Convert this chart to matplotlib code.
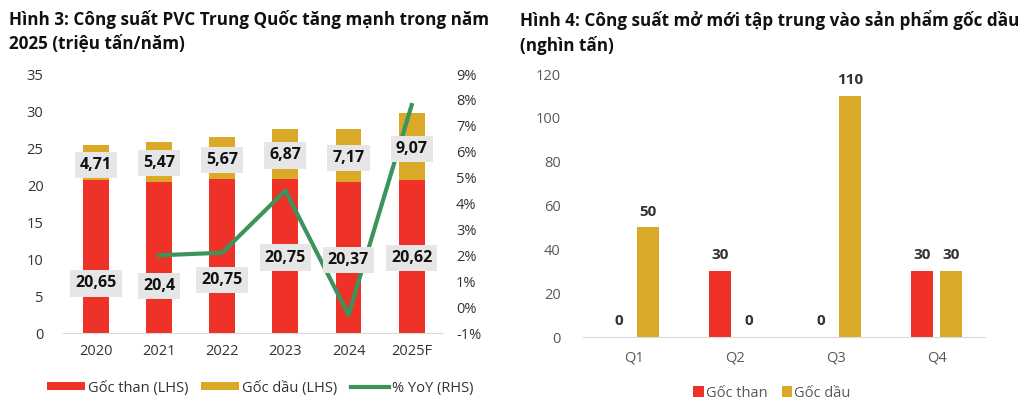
import matplotlib
matplotlib.use('Agg')
from matplotlib import pyplot as plt
from matplotlib.ticker import FuncFormatter
import numpy as np

plt.rcParams['font.family'] = ['Open Sans', 'DejaVu Sans']

# Hinh 3 data
years = ['2020', '2021', '2022', '2023', '2024', '2025F']
coal = [20.65, 20.4, 20.75, 20.75, 20.37, 20.62]
oil = [4.71, 5.47, 5.67, 6.87, 7.17, 9.07]
yoy = [None, 2.0, 2.1, 4.5, -0.3, 7.8]
coal_lbl = ['20,65', '20,4', '20,75', '20,75', '20,37', '20,62']
oil_lbl = ['4,71', '5,47', '5,67', '6,87', '7,17', '9,07']

# label heights (layout only)
coal_lbl_y = [6.7, 6.3, 7.2, 10.2, 9.9, 10.1]
oil_lbl_y = [22.7, 23.0, 23.4, 24.0, 23.7, 24.9]

# Hinh 4 data
quarters = ['Q1', 'Q2', 'Q3', 'Q4']
q_coal = [0, 30, 0, 30]
q_oil = [50, 0, 110, 30]

red = '#EE3228'
gold = '#DBA928'
green = '#3A945C'
tick_col = '#333333'

fig = plt.figure(figsize=(10.24, 4.11), dpi=100)

fig.text(0.009, 0.975, 'Hình 3: Công suất PVC Trung Quốc tăng mạnh trong năm\n2025 (triệu tấn/năm)',
         fontsize=12.3, fontweight='bold', va='top', ha='left', color='#111111', linespacing=1.35)
fig.text(0.508, 0.975, 'Hình 4: Công suất mở mới tập trung vào sản phẩm gốc dầu\n(nghìn tấn)',
         fontsize=12.3, fontweight='bold', va='top', ha='left', color='#111111', linespacing=1.35)

# ---- left chart
ax = fig.add_axes([63 / 1024, 1 - 333 / 411, (442 - 63) / 1024, (333 - 74) / 411])
x = np.arange(len(years))
ax.bar(x, coal, width=0.41, color=red, label='Gốc than (LHS)')
ax.bar(x, oil, width=0.41, bottom=coal, color=gold, label='Gốc dầu (LHS)')
ax.set_ylim(0, 35)
ax.set_xlim(-0.52, 5.48)
ax.set_yticks(range(0, 36, 5))
ax.set_xticks(x)
ax.set_xticklabels(years)
for s in ['top', 'right', 'left']:
    ax.spines[s].set_visible(False)
ax.spines['bottom'].set_color('#d9d9d9')
ax.tick_params(length=0, labelsize=10.5, colors=tick_col)
ax.tick_params(axis='y', pad=14)
ax.tick_params(axis='x', pad=8)

ax2 = ax.twinx()
yx = [i for i in range(len(years)) if yoy[i] is not None]
yv = [yoy[i] for i in yx]
ax2.plot(yx, yv, color=green, lw=3, label='% YoY (RHS)', zorder=6)
ax2.set_ylim(-1, 9)
ax2.set_yticks(range(-1, 10))
ax2.yaxis.set_major_formatter(FuncFormatter(lambda v, p: '%d%%' % v))
for s in ['top', 'right', 'left', 'bottom']:
    ax2.spines[s].set_visible(False)
ax2.tick_params(length=0, labelsize=10.5, colors=tick_col, pad=10)

# value boxes sit above the line
box = dict(boxstyle='square,pad=0.32', fc='#e6e6e6', ec='none')
for i in range(len(years)):
    ax2.text(x[i], coal_lbl_y[i], coal_lbl[i], transform=ax.transData, ha='center', va='center',
             fontsize=11.5, fontweight='bold', color='#111111', bbox=box, zorder=10)
    ax2.text(x[i], oil_lbl_y[i], oil_lbl[i], transform=ax.transData, ha='center', va='center',
             fontsize=11.5, fontweight='bold', color='#111111', bbox=box, zorder=10)

h1, l1 = ax.get_legend_handles_labels()
h2, l2 = ax2.get_legend_handles_labels()
fig.legend(h1 + h2, l1 + l2, loc='center', bbox_to_anchor=(260 / 1024, 1 - 388 / 411), ncol=3,
           frameon=False, fontsize=10.5, handlelength=2.6, handleheight=0.5, columnspacing=0.9,
           handletextpad=0.2, labelcolor=tick_col)

# ---- right chart
bx = fig.add_axes([583 / 1024, 1 - 337 / 411, (985 - 583) / 1024, (337 - 74) / 411])
qx = np.arange(len(quarters))
w = 0.22
off = 0.143
b1 = bx.bar(qx - off, q_coal, width=w, color=red, label='Gốc than')
b2 = bx.bar(qx + off, q_oil, width=w, color=gold, label='Gốc dầu')
for i in range(len(quarters)):
    bx.text(qx[i] - off, q_coal[i] + 4, str(q_coal[i]), ha='center', va='bottom',
            fontsize=11, fontweight='bold', color='#333333')
    bx.text(qx[i] + off, q_oil[i] + 4, str(q_oil[i]), ha='center', va='bottom',
            fontsize=11, fontweight='bold', color='#333333')
bx.set_ylim(0, 120)
bx.set_xlim(-0.5, 3.48)
bx.set_yticks(range(0, 121, 20))
bx.set_xticks(qx)
bx.set_xticklabels(quarters)
for s in ['top', 'right', 'left']:
    bx.spines[s].set_visible(False)
bx.spines['bottom'].set_color('#d9d9d9')
bx.tick_params(length=0, labelsize=10.5, colors='#595959')
bx.tick_params(axis='y', pad=16)
bx.tick_params(axis='x', pad=10)
bx.legend(loc='center', bbox_to_anchor=(772 / 1024, 1 - 393 / 411), bbox_transform=fig.transFigure,
          ncol=2, frameon=False, fontsize=10.5, handlelength=0.7, handleheight=0.7,
          handletextpad=0.15, columnspacing=1.0, labelcolor='#595959')

fig.savefig('out.png', dpi=100, facecolor='white')
